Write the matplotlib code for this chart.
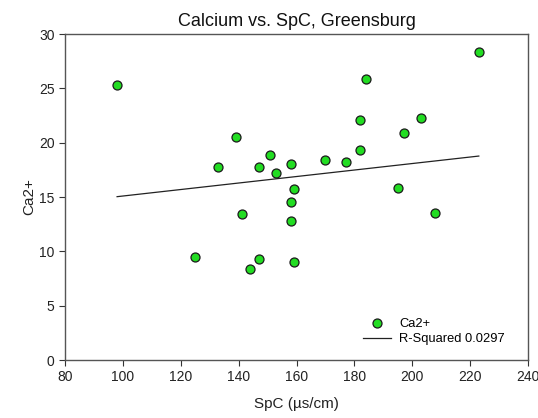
import numpy as np
import matplotlib
matplotlib.use("Agg")
import matplotlib.pyplot as plt

plt.rcParams['font.family'] = ['Liberation Sans', 'DejaVu Sans']

# Specific conductance (µs/cm) and calcium measurements
spc = [98, 223, 184, 182, 203, 197, 139, 151, 182, 170, 177, 133, 147, 158,
       153, 159, 195, 158, 141, 208, 158, 125, 147, 159, 144]
ca = [25.3, 28.3, 25.9, 22.1, 22.3, 20.9, 20.55, 18.9, 19.3, 18.4, 18.2, 17.75,
      17.75, 18.05, 17.2, 15.7, 15.8, 14.55, 13.45, 13.55, 12.8, 9.45, 9.3, 9.05, 8.35]

# Reported linear regression of Ca2+ on SpC
fit_slope = 0.0299
fit_intercept = 12.10
r_squared = 0.0297

x_ticks = [80, 100, 120, 140, 160, 180, 200, 220, 240]
y_ticks = [0, 5, 10, 15, 20, 25, 30]

fig = plt.figure(figsize=(5.38, 4.18), dpi=100)
ax = fig.add_axes([65 / 538, 1 - 360 / 418, (528 - 65) / 538, (360 - 34) / 418])

ax.scatter(spc, ca, s=42, c='#22dd22', edgecolors='#1a1a1a', linewidths=0.9,
           zorder=3, label='Ca2+')

xl = np.array([min(spc), max(spc)])
ax.plot(xl, fit_slope * xl + fit_intercept, color='#222222', lw=0.9,
        label=f'R-Squared {r_squared}')

ax.set_xlim(80, 240)
ax.set_ylim(0, 30)
ax.set_xticks(x_ticks)
ax.set_yticks(y_ticks)
ax.tick_params(direction='out', length=4, width=0.8, labelsize=10,
               colors='#333333', labelcolor='#222222')
for s in ax.spines.values():
    s.set_color('#555555')
    s.set_linewidth(1.0)

ax.set_title('Calcium vs. SpC, Greensburg', fontsize=13, pad=6, color='#111111')
ax.set_xlabel('SpC (µs/cm)', fontsize=11, labelpad=9, color='#222222')
ax.set_ylabel('Ca2+', fontsize=11, labelpad=2, color='#222222')

ax.legend(loc='lower right', bbox_to_anchor=(0.975, 0.01), frameon=False,
          fontsize=9.3, handlelength=2.2, handletextpad=0.6, labelspacing=0.25)

fig.savefig('out.png', dpi=100)
